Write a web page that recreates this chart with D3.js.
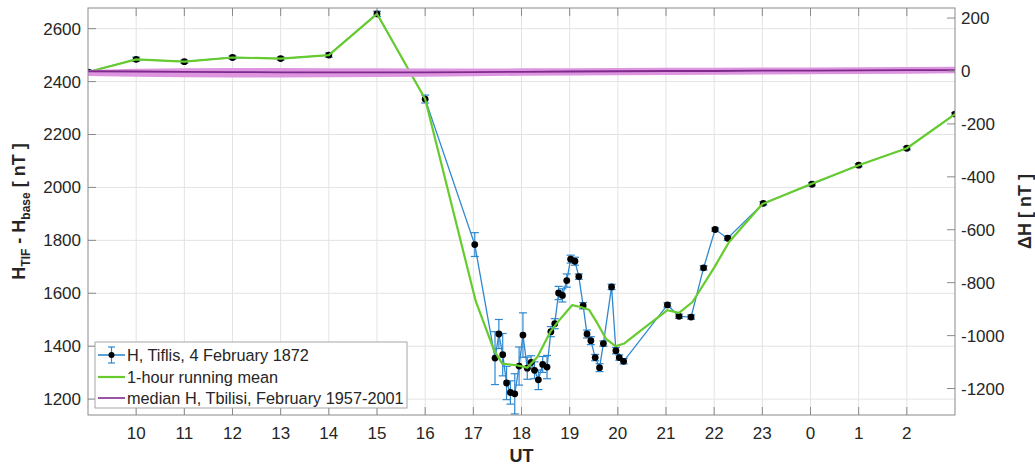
<!DOCTYPE html>
<html>
<head>
<meta charset="utf-8">
<script src="https://cdn.jsdelivr.net/npm/d3@7"></script>
<style>
  body { margin: 0; background: #fff; }
  svg text { font-family: "Liberation Sans", Arial, sans-serif; fill: #262626; }
</style>
</head>
<body>
<div id="chart"></div>
<script>
// H at Tiflis, 4 February 1872 (hours UT, values past 24 are next day)
const hTimes = [9, 10, 11, 12, 13, 14, 15, 16, 17.03,
  17.45, 17.53, 17.61, 17.69, 17.77, 17.86, 17.95, 18.03, 18.12, 18.20,
  18.27, 18.35, 18.44, 18.53, 18.61, 18.69, 18.77, 18.85, 18.94, 19.02,
  19.11, 19.19, 19.28, 19.36, 19.44, 19.53, 19.62, 19.70, 19.87, 19.96,
  20.03, 20.12, 21.03, 21.27, 21.52, 21.78, 22.02, 22.28, 23.02, 24.03, 25, 26, 27]
const hValues = [2436, 2484, 2475, 2491, 2487, 2500, 2656, 2334, 1784,
  1355, 1446, 1368, 1261, 1225, 1220, 1325, 1442, 1317, 1339,
  1309, 1273, 1331, 1321, 1455, 1485, 1601, 1592, 1648, 1729,
  1721, 1663, 1553, 1446, 1421, 1357, 1319, 1410, 1624, 1383,
  1357, 1343, 1556, 1513, 1510, 1696, 1841, 1808, 1940, 2012, 2084, 2148, 2277]
const hErrors = [8, 8, 6, 6, 6, 8, 10, 15, 45,
  100, 55, 80, 63, 44, 76, 72, 84, 42, 25,
  32, 37, 30, 44, 19, 19, 25, 25, 25, 15,
  15, 10, 12, 15, 15, 12, 15, 10, 10, 12,
  10, 10, 8, 8, 8, 8, 6, 8, 6, 6, 6, 6, 6]

// 1-hour running mean
const meanTimes = [9, 10, 11, 12, 13, 14, 15, 16, 17.05, 17.43, 17.6, 17.9, 18.12, 18.33,
  18.6, 18.81, 19.05, 19.23, 19.4, 19.58, 19.75, 19.95, 20.13, 20.48, 21.03, 21.27,
  21.55, 22.0, 22.31, 23.0, 24.0, 25, 26, 27]
const meanValues = [2436, 2484, 2475, 2491, 2487, 2500, 2656, 2334, 1570, 1384, 1334, 1328, 1319, 1359,
  1455, 1504, 1555, 1548, 1538, 1485, 1429, 1400, 1410, 1460, 1536, 1526,
  1567, 1697, 1794, 1937, 2012, 2084, 2148, 2277]

// median Delta H, Tbilisi, February 1957-2001 (right axis) with spread band
const medTimes = [9, 10, 11, 12, 13, 14, 15, 16, 17, 18, 19, 20, 21, 22, 23, 24, 25, 26, 27]
const medValues = [-1, -2, -3, -4, -5, -5, -5, -5, -4, -3, -2, -1, 0, 0, 1, 1, 2, 3, 3]
const medUpper = [4, 8, 10, 11, 11, 10, 10, 9, 9, 10, 10, 11, 12, 12, 13, 13, 14, 15, 16]
const medLower = [-19, -22, -24, -25, -25, -24, -23, -22, -20, -18, -17, -16, -15, -14, -13, -12, -11, -10, -9]

const xTicks = [10, 11, 12, 13, 14, 15, 16, 17, 18, 19, 20, 21, 22, 23, 24, 25, 26]
const leftTicks = [1200, 1400, 1600, 1800, 2000, 2200, 2400, 2600]
const rightTicks = [-1200, -1000, -800, -600, -400, -200, 0, 200]

const legendLabels = ['H, Tiflis, 4 February 1872', '1-hour running mean', 'median H, Tbilisi, February 1957-2001']

const width = 1035
const height = 468
const m = { left: 88, right: 955, top: 8, bottom: 415 }

const blue = '#2f88cf'
const green = '#66cc2e'
const purple = '#7e2a8c'
const band = '#dd95e0'
const axisColor = '#8a8a8a'
const gridColor = '#e3e3e3'

const x = d3.scaleLinear().domain([9, 27]).range([m.left, m.right])
const yL = d3.scaleLinear().domain([1140, 2678]).range([m.bottom, m.top])
const yR = d3.scaleLinear().domain([-1300, 238]).range([m.bottom, m.top])

const svg = d3.select('#chart').append('svg')
  .attr('width', width)
  .attr('height', height)
  .attr('viewBox', [0, 0, width, height])

svg.append('defs').append('clipPath').attr('id', 'clip')
  .append('rect')
  .attr('x', m.left).attr('y', m.top)
  .attr('width', m.right - m.left).attr('height', m.bottom - m.top)

// grid
const grid = svg.append('g').attr('stroke', gridColor).attr('stroke-width', 1)
grid.selectAll('.gx').data(xTicks).join('line')
  .attr('x1', d => x(d)).attr('x2', d => x(d))
  .attr('y1', m.top).attr('y2', m.bottom)
grid.selectAll('.gy').data(leftTicks).join('line')
  .attr('x1', m.left).attr('x2', m.right)
  .attr('y1', d => yL(d)).attr('y2', d => yL(d))

const plot = svg.append('g').attr('clip-path', 'url(#clip)')

// H series: line, error bars, markers
const hData = hTimes.map((t, i) => ({ t, v: hValues[i], e: hErrors[i] }))
plot.append('path')
  .datum(hData)
  .attr('fill', 'none')
  .attr('stroke', blue)
  .attr('stroke-width', 1.3)
  .attr('d', d3.line().x(d => x(d.t)).y(d => yL(d.v)))

const err = plot.append('g').attr('stroke', blue).attr('stroke-width', 1.2)
err.selectAll('.ev').data(hData).join('line')
  .attr('x1', d => x(d.t)).attr('x2', d => x(d.t))
  .attr('y1', d => yL(d.v - d.e)).attr('y2', d => yL(d.v + d.e))
err.selectAll('.ct').data(hData).join('line')
  .attr('x1', d => x(d.t) - 4).attr('x2', d => x(d.t) + 4)
  .attr('y1', d => yL(d.v + d.e)).attr('y2', d => yL(d.v + d.e))
err.selectAll('.cb').data(hData).join('line')
  .attr('x1', d => x(d.t) - 4).attr('x2', d => x(d.t) + 4)
  .attr('y1', d => yL(d.v - d.e)).attr('y2', d => yL(d.v - d.e))

plot.append('g').selectAll('circle').data(hData).join('circle')
  .attr('cx', d => x(d.t)).attr('cy', d => yL(d.v))
  .attr('r', 3.4).attr('fill', '#000')

// running mean
plot.append('path')
  .datum(meanTimes.map((t, i) => ({ t, v: meanValues[i] })))
  .attr('fill', 'none')
  .attr('stroke', green)
  .attr('stroke-width', 2.2)
  .attr('stroke-linejoin', 'round')
  .attr('d', d3.line().x(d => x(d.t)).y(d => yL(d.v)))

// median band + line (right axis)
const medData = medTimes.map((t, i) => ({ t, v: medValues[i], hi: medUpper[i], lo: medLower[i] }))
plot.append('path')
  .datum(medData)
  .attr('fill', band)
  .attr('d', d3.area().x(d => x(d.t)).y0(d => yR(d.lo)).y1(d => yR(d.hi)))
plot.append('path')
  .datum(medData)
  .attr('fill', 'none')
  .attr('stroke', purple)
  .attr('stroke-width', 1.8)
  .attr('d', d3.line().x(d => x(d.t)).y(d => yR(d.v)))

// box
svg.append('rect')
  .attr('x', m.left).attr('y', m.top)
  .attr('width', m.right - m.left).attr('height', m.bottom - m.top)
  .attr('fill', 'none').attr('stroke', axisColor).attr('stroke-width', 1)

// inward ticks
const tl = 8
const ticks = svg.append('g').attr('stroke', axisColor).attr('stroke-width', 1)
ticks.selectAll('.xb').data(xTicks).join('line')
  .attr('x1', d => x(d)).attr('x2', d => x(d))
  .attr('y1', m.bottom).attr('y2', m.bottom - tl)
ticks.selectAll('.xt').data(xTicks).join('line')
  .attr('x1', d => x(d)).attr('x2', d => x(d))
  .attr('y1', m.top).attr('y2', m.top + tl)
ticks.selectAll('.yl').data(leftTicks).join('line')
  .attr('x1', m.left).attr('x2', m.left + tl)
  .attr('y1', d => yL(d)).attr('y2', d => yL(d))
ticks.selectAll('.yr').data(rightTicks).join('line')
  .attr('x1', m.right).attr('x2', m.right - tl)
  .attr('y1', d => yR(d)).attr('y2', d => yR(d))

// tick labels
svg.append('g').selectAll('text').data(xTicks).join('text')
  .attr('x', d => x(d)).attr('y', 439)
  .attr('text-anchor', 'middle')
  .attr('font-size', 17)
  .text(d => d % 24)
svg.append('g').selectAll('text').data(leftTicks).join('text')
  .attr('x', 81).attr('y', d => yL(d) + 6)
  .attr('text-anchor', 'end')
  .attr('font-size', 17)
  .text(d => d)
svg.append('g').selectAll('text').data(rightTicks).join('text')
  .attr('x', 961).attr('y', d => yR(d) + 6)
  .attr('text-anchor', 'start')
  .attr('font-size', 17)
  .text(d => d)

// axis labels
svg.append('text')
  .attr('x', (m.left + m.right) / 2).attr('y', 462)
  .attr('text-anchor', 'middle')
  .attr('font-size', 18).attr('font-weight', 'bold')
  .text('UT')

const ylab = svg.append('text')
  .attr('transform', 'translate(25,' + ((m.top + m.bottom) / 2) + ') rotate(-90)')
  .attr('text-anchor', 'middle')
  .attr('font-size', 18).attr('font-weight', 'bold')
ylab.append('tspan').text('H')
ylab.append('tspan').attr('font-size', 12).attr('dy', 5).text('TIF')
ylab.append('tspan').attr('dy', -5).text(' - H')
ylab.append('tspan').attr('font-size', 12).attr('dy', 5).text('base')
ylab.append('tspan').attr('dy', -5).text(' [ nT ]')

svg.append('text')
  .attr('transform', 'translate(1031,' + ((m.top + m.bottom) / 2) + ') rotate(-90)')
  .attr('text-anchor', 'middle')
  .attr('font-size', 18).attr('font-weight', 'bold')
  .text('ΔH [ nT ]')

// legend
const lg = svg.append('g')
lg.append('rect')
  .attr('x', 95).attr('y', 342).attr('width', 312).attr('height', 66)
  .attr('fill', '#fff').attr('stroke', '#a6a6a6').attr('stroke-width', 1)
const rows = [355, 377, 398]
const cols = [blue, green, purple]
rows.forEach((ry, i) => {
  lg.append('line')
    .attr('x1', 98).attr('x2', 125).attr('y1', ry).attr('y2', ry)
    .attr('stroke', cols[i]).attr('stroke-width', i === 1 ? 2.2 : 1.6)
  lg.append('text')
    .attr('x', 127).attr('y', ry + 6)
    .attr('font-size', 16.3)
    .text(legendLabels[i])
})
lg.append('line').attr('x1', 111.5).attr('x2', 111.5).attr('y1', 347).attr('y2', 363)
  .attr('stroke', blue).attr('stroke-width', 1.2)
lg.append('line').attr('x1', 108).attr('x2', 115).attr('y1', 347).attr('y2', 347)
  .attr('stroke', blue).attr('stroke-width', 1.2)
lg.append('line').attr('x1', 108).attr('x2', 115).attr('y1', 363).attr('y2', 363)
  .attr('stroke', blue).attr('stroke-width', 1.2)
lg.append('circle').attr('cx', 111.5).attr('cy', 355).attr('r', 3).attr('fill', '#000')
</script>
</body>
</html>
